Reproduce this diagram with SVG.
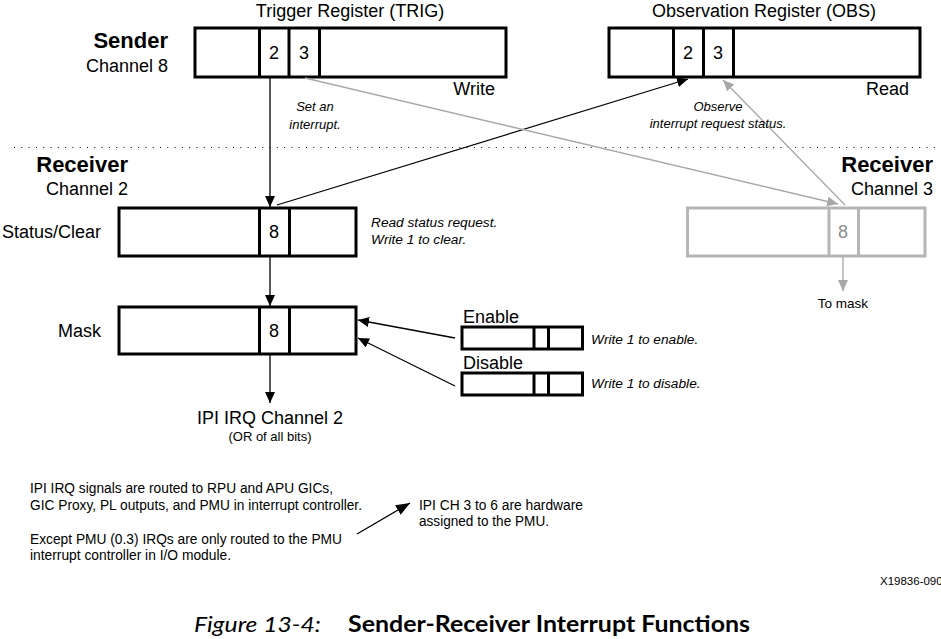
<svg xmlns="http://www.w3.org/2000/svg" width="941" height="639" viewBox="0 0 941 639">
<style>
text{font-family:"Liberation Sans",Arial,sans-serif;fill:#000}
.lbl{font-size:18px}
.big{font-size:22px;font-weight:bold}
.it{font-size:13px;font-style:italic}
.it2{font-size:13.7px;font-style:italic}
.note{font-size:14px}
.reg{fill:#fff;stroke:#000;stroke-width:3}
.regg{fill:#fff;stroke:#b5b5b5;stroke-width:3}
.div{stroke:#000;stroke-width:3}
.divg{stroke:#b5b5b5;stroke-width:3}
.c{fill:none;stroke:#000;stroke-width:1.3}
.cg{fill:none;stroke:#a8a8a8;stroke-width:1.3}
.mid{text-anchor:middle}
.end{text-anchor:end}
.cap{font-family:Lato,"Open Sans",sans-serif;font-size:22px}
</style>
<defs>
<marker id="ab" viewBox="0 0 11 10" refX="11" refY="5" markerWidth="11" markerHeight="10" markerUnits="userSpaceOnUse" orient="auto"><path d="M0,0 L11,5 L0,10 z" fill="#000"/></marker>
<marker id="ag" viewBox="0 0 11 10" refX="11" refY="5" markerWidth="11" markerHeight="10" markerUnits="userSpaceOnUse" orient="auto"><path d="M0,0 L11,5 L0,10 z" fill="#a8a8a8"/></marker>
<marker id="abl" viewBox="0 0 14 11" refX="14" refY="5.5" markerWidth="14" markerHeight="11" markerUnits="userSpaceOnUse" orient="auto"><path d="M0,0 L14,5.5 L0,11 z" fill="#000"/></marker>
</defs>
<rect width="941" height="639" fill="#fff"/>

<line x1="14" y1="147.5" x2="941" y2="147.5" stroke="#000" stroke-width="1" stroke-dasharray="1 6.3"/>

<g id="sender-labels">
<text class="big end" x="168" y="48">Sender</text>
<text class="lbl end" x="168" y="72">Channel 8</text>
</g>

<g id="trig">
<text class="lbl mid" x="350" y="17">Trigger Register (TRIG)</text>
<rect class="reg" x="195" y="28" width="311" height="49"/>
<line class="div" x1="259.5" y1="28" x2="259.5" y2="77"/>
<line class="div" x1="289" y1="28" x2="289" y2="77"/>
<line class="div" x1="319.5" y1="28" x2="319.5" y2="77"/>
<text class="lbl mid" x="274" y="59">2</text>
<text class="lbl mid" x="304" y="59">3</text>
<text class="lbl end" x="495" y="95">Write</text>
</g>

<g id="obs">
<text class="lbl mid" x="764" y="17">Observation Register (OBS)</text>
<rect class="reg" x="609" y="28" width="311" height="49"/>
<line class="div" x1="673.5" y1="28" x2="673.5" y2="77"/>
<line class="div" x1="703.5" y1="28" x2="703.5" y2="77"/>
<line class="div" x1="733.5" y1="28" x2="733.5" y2="77"/>
<text class="lbl mid" x="688" y="59">2</text>
<text class="lbl mid" x="718" y="59">3</text>
<text class="lbl end" x="909" y="95">Read</text>
</g>

<g id="receiver2-labels">
<text class="big end" x="128" y="172">Receiver</text>
<text class="lbl end" x="128" y="195">Channel 2</text>
</g>

<g id="status">
<text class="lbl end" x="101" y="238">Status/Clear</text>
<rect class="reg" x="119" y="208" width="237" height="48"/>
<line class="div" x1="259.5" y1="208" x2="259.5" y2="256"/>
<line class="div" x1="289.5" y1="208" x2="289.5" y2="256"/>
<text class="lbl mid" x="274" y="238">8</text>
<text class="it2" x="371" y="227">Read status request.</text>
<text class="it2" x="371" y="244">Write 1 to clear.</text>
</g>

<g id="mask">
<text class="lbl end" x="101" y="337">Mask</text>
<rect class="reg" x="119" y="307" width="237" height="47"/>
<line class="div" x1="259.5" y1="307" x2="259.5" y2="354"/>
<line class="div" x1="289.5" y1="307" x2="289.5" y2="354"/>
<text class="lbl mid" x="274" y="337">8</text>
</g>

<g id="irq-out">
<text class="lbl mid" x="270" y="424">IPI IRQ Channel 2</text>
<text class="mid" x="270" y="441" style="font-size:13px">(OR of all bits)</text>
</g>

<g id="enable">
<text class="lbl" x="463" y="323">Enable</text>
<rect class="reg" x="462" y="327" width="120.5" height="22"/>
<line class="div" x1="534" y1="327" x2="534" y2="349"/>
<line class="div" x1="548.5" y1="327" x2="548.5" y2="349"/>
<text class="it2" x="591" y="344">Write 1 to enable.</text>
</g>

<g id="disable">
<text class="lbl" x="463" y="369">Disable</text>
<rect class="reg" x="462" y="373" width="120.5" height="22"/>
<line class="div" x1="534" y1="373" x2="534" y2="395"/>
<line class="div" x1="548.5" y1="373" x2="548.5" y2="395"/>
<text class="it2" x="591" y="388">Write 1 to disable.</text>
</g>

<g id="receiver3">
<text class="big end" x="933" y="172">Receiver</text>
<text class="lbl end" x="933" y="195">Channel 3</text>
<rect class="regg" x="687.5" y="208" width="237.5" height="48"/>
<line class="divg" x1="829" y1="208" x2="829" y2="256"/>
<line class="divg" x1="858.5" y1="208" x2="858.5" y2="256"/>
<text class="lbl mid" x="843" y="238" style="fill:#8c8c8c">8</text>
<text class="mid" x="843" y="308" style="font-size:13.5px">To mask</text>
</g>

<g id="notes">
<text class="note" x="30" y="493" textLength="303" lengthAdjust="spacingAndGlyphs">IPI IRQ signals are routed to RPU and APU GICs,</text>
<text class="note" x="30" y="510" textLength="332" lengthAdjust="spacingAndGlyphs">GIC Proxy, PL outputs, and PMU in interrupt controller.</text>
<text class="note" x="30" y="544" textLength="312" lengthAdjust="spacingAndGlyphs">Except PMU (0.3) IRQs are only routed to the PMU</text>
<text class="note" x="30" y="560" textLength="201" lengthAdjust="spacingAndGlyphs">interrupt controller in I/O module.</text>
<text class="note" x="419" y="510" textLength="164" lengthAdjust="spacingAndGlyphs">IPI CH 3 to 6 are hardware</text>
<text class="note" x="419" y="526" textLength="130" lengthAdjust="spacingAndGlyphs">assigned to the PMU.</text>
</g>

<g id="connectors">
<line class="c" x1="270" y1="78" x2="270" y2="207" marker-end="url(#ab)"/>
<line class="c" x1="277" y1="205" x2="688" y2="79" marker-end="url(#ab)"/>
<line class="cg" x1="305" y1="78" x2="838" y2="204" marker-end="url(#ag)"/>
<line class="cg" x1="845" y1="205" x2="723" y2="80" marker-end="url(#ag)"/>
<line class="c" x1="270" y1="257" x2="270" y2="306" marker-end="url(#ab)"/>
<line class="c" x1="270" y1="355" x2="270" y2="403" marker-end="url(#ab)"/>
<line class="cg" x1="843" y1="257" x2="843" y2="291" marker-end="url(#ag)"/>
<line class="c" x1="455" y1="338" x2="358" y2="320" marker-end="url(#ab)"/>
<line class="c" x1="455" y1="386" x2="358" y2="338" marker-end="url(#ab)"/>
<line class="c" x1="357" y1="534" x2="410" y2="503" marker-end="url(#abl)"/>
</g>

<g id="annotations">
<text class="it mid" x="315" y="111">Set an</text>
<text class="it mid" x="315" y="129">interrupt.</text>
<text class="it mid" x="718" y="111">Observe</text>
<text class="it mid" x="718" y="128">interrupt request status.</text>
</g>

<text x="880" y="585" style="font-size:11.5px">X19836-090</text>

<g id="caption">
<text class="cap" x="194" y="632" style="font-style:italic" textLength="127" lengthAdjust="spacingAndGlyphs">Figure 13-4:</text>
<text class="cap" x="348" y="632" style="font-weight:bold" textLength="402" lengthAdjust="spacingAndGlyphs">Sender-Receiver Interrupt Functions</text>
</g>
</svg>
